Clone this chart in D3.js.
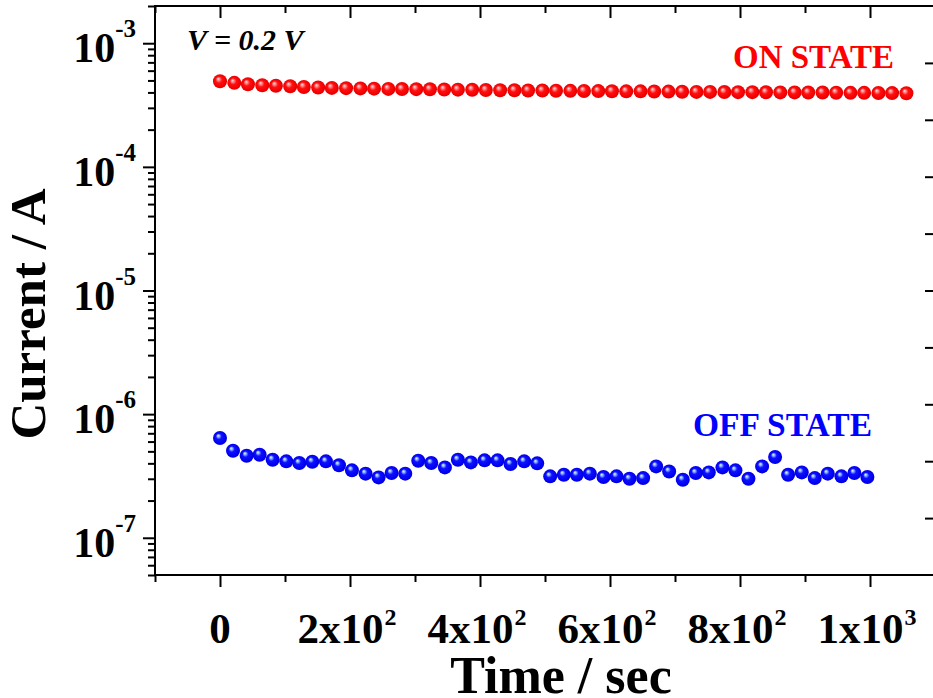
<!DOCTYPE html>
<html>
<head>
<meta charset="utf-8">
<script src="https://cdn.jsdelivr.net/npm/d3@7/dist/d3.min.js"></script>
<style>
  html, body { margin: 0; padding: 0; background: #fff; }
  svg { display: block; }
  text { font-family: "Liberation Serif", "Times New Roman", serif; font-weight: bold; }
</style>
</head>
<body>
<svg id="chart" width="933" height="698"></svg>
<script>
// Retention test at a read voltage of 0.2 V: ON and OFF state current vs time
const onTime = [0, 22, 43, 65, 86, 108, 129, 151, 172, 194, 216, 237, 259, 280, 302, 323, 345, 366, 388, 409,
  431, 453, 474, 496, 517, 539, 560, 582, 603, 625, 647, 668, 690, 711, 733, 754, 776, 797, 819, 840,
  862, 884, 905, 927, 948, 970, 991, 1013, 1034, 1056];
const onCurrent = [4.93e-4, 4.78e-4, 4.66e-4, 4.57e-4, 4.53e-4, 4.49e-4, 4.43e-4, 4.38e-4, 4.35e-4, 4.33e-4,
  4.31e-4, 4.29e-4, 4.27e-4, 4.26e-4, 4.25e-4, 4.24e-4, 4.22e-4, 4.21e-4, 4.20e-4, 4.18e-4,
  4.17e-4, 4.16e-4, 4.15e-4, 4.14e-4, 4.13e-4, 4.12e-4, 4.11e-4, 4.10e-4, 4.09e-4, 4.08e-4,
  4.08e-4, 4.07e-4, 4.06e-4, 4.05e-4, 4.04e-4, 4.04e-4, 4.03e-4, 4.02e-4, 4.02e-4, 4.01e-4,
  4.00e-4, 4.00e-4, 3.99e-4, 3.99e-4, 3.98e-4, 3.97e-4, 3.97e-4, 3.96e-4, 3.95e-4, 3.94e-4];

const offTime = [0, 20, 41, 61, 81, 102, 122, 142, 163, 183, 203, 224, 244, 264, 285, 305, 325, 346, 366, 386,
  407, 427, 447, 468, 488, 508, 529, 549, 569, 590, 610, 630, 651, 671, 691, 712, 732, 752, 773, 793,
  813, 834, 854, 874, 895, 915, 935, 956, 976, 996];
const offCurrent = [6.41e-7, 5.06e-7, 4.61e-7, 4.70e-7, 4.28e-7, 4.15e-7, 4.02e-7, 4.12e-7, 4.15e-7, 3.86e-7,
  3.51e-7, 3.30e-7, 3.08e-7, 3.34e-7, 3.30e-7, 4.20e-7, 4.02e-7, 3.71e-7, 4.28e-7, 4.07e-7,
  4.23e-7, 4.23e-7, 3.95e-7, 4.15e-7, 4.00e-7, 3.14e-7, 3.23e-7, 3.23e-7, 3.30e-7, 3.10e-7,
  3.14e-7, 3.00e-7, 3.04e-7, 3.78e-7, 3.44e-7, 2.95e-7, 3.34e-7, 3.38e-7, 3.71e-7, 3.51e-7,
  3.00e-7, 3.78e-7, 4.50e-7, 3.23e-7, 3.38e-7, 3.04e-7, 3.30e-7, 3.14e-7, 3.34e-7, 3.10e-7];

const xMajorTicks = [0, 200, 400, 600, 800, 1000];
const xTickMantissa = ["0", "2x10", "4x10", "6x10", "8x10", "1x10"];
const xTickExponent = ["", "2", "2", "2", "2", "3"];
const yMajorTicks = [1e-7, 1e-6, 1e-5, 1e-4, 1e-3];
const yTickExponent = ["-7", "-6", "-5", "-4", "-3"];

const xTitle = "Time / sec";
const yTitle = "Current / A";
const biasLabel = "V = 0.2 V";
const onLabel = "ON STATE";
const offLabel = "OFF STATE";

const svg = d3.select("#chart");
const plotLeft = 155, plotRight = 935, plotTop = 6, plotBottom = 575;

const x = d3.scaleLinear().domain([-100, 1100]).range([plotLeft, plotRight]);
const y = d3.scaleLog().domain([5e-8, 2e-3]).range([plotBottom, plotTop]);

// Shaded sphere markers
const defs = svg.append("defs");
function sphere(id, stops) {
  const g = defs.append("radialGradient").attr("id", id)
    .attr("cx", "50%").attr("cy", "50%").attr("r", "55%")
    .attr("fx", "36%").attr("fy", "32%");
  stops.forEach(s => g.append("stop").attr("offset", s[0]).attr("stop-color", s[1]));
}
sphere("ballRed", [[0, "#ffe0e0"], [0.18, "#ff8a8a"], [0.42, "#ff1010"], [0.8, "#f00000"], [1, "#d80000"]]);
sphere("ballBlue", [[0, "#e8f6ff"], [0.16, "#8ab4ff"], [0.38, "#1010ff"], [0.8, "#0000f0"], [1, "#0000c8"]]);

// Axes
const axisColor = "#000";
function styleAxis(g) {
  g.select(".domain").remove();
  g.selectAll("line").attr("stroke", axisColor).attr("stroke-width", 2);
}
const xMinor = d3.range(-100, 1101, 100).filter(v => !xMajorTicks.includes(v));

svg.append("g").attr("transform", `translate(0,${plotBottom})`)
  .call(d3.axisBottom(x).tickValues(xMajorTicks).tickSize(12).tickFormat(""))
  .call(styleAxis);
svg.append("g").attr("transform", `translate(0,${plotBottom})`)
  .call(d3.axisBottom(x).tickValues(xMinor).tickSize(7).tickFormat(""))
  .call(styleAxis);
svg.append("g").attr("transform", `translate(0,${plotTop})`)
  .call(d3.axisTop(x).tickValues(xMajorTicks).tickSize(-12).tickFormat(""))
  .call(styleAxis);
svg.append("g").attr("transform", `translate(0,${plotTop})`)
  .call(d3.axisTop(x).tickValues(xMinor).tickSize(-7).tickFormat(""))
  .call(styleAxis);

const yMinor = y.ticks().filter(v => !yMajorTicks.some(m => Math.abs(m - v) / m < 1e-6));
svg.append("g").attr("transform", `translate(${plotLeft},0)`)
  .call(d3.axisLeft(y).tickValues(yMajorTicks).tickSize(12).tickFormat(""))
  .call(styleAxis);
svg.append("g").attr("transform", `translate(${plotLeft},0)`)
  .call(d3.axisLeft(y).tickValues(yMinor).tickSize(7).tickFormat(""))
  .call(styleAxis);

// Right-hand axis with evenly spaced inward ticks
const yRight = d3.scaleLinear().domain([0, 10]).range([plotBottom, plotTop]);
svg.append("g").attr("transform", `translate(${plotRight},0)`)
  .call(d3.axisRight(yRight).tickValues(d3.range(1, 10)).tickSize(-10).tickFormat(""))
  .call(styleAxis);

// Frame
svg.append("rect").attr("x", plotLeft).attr("y", plotTop)
  .attr("width", plotRight - plotLeft).attr("height", plotBottom - plotTop)
  .attr("fill", "none").attr("stroke", axisColor).attr("stroke-width", 2);

// Tick labels
const xl = svg.append("g");
xMajorTicks.forEach((v, i) => {
  const t = xl.append("text").attr("x", x(v) - (xTickExponent[i] ? 3 : 0)).attr("y", 643)
    .attr("text-anchor", "middle").attr("font-size", 43);
  t.append("tspan").text(xTickMantissa[i]);
  if (xTickExponent[i]) {
    t.append("tspan").attr("font-size", 24).attr("dx", 1).attr("dy", -18).text(xTickExponent[i]);
  }
});

const yl = svg.append("g");
yMajorTicks.forEach((v, i) => {
  const t = yl.append("text").attr("x", 136).attr("y", y(v) + 19)
    .attr("text-anchor", "end").attr("font-size", 42);
  t.append("tspan").text("10");
  t.append("tspan").attr("font-size", 25).attr("dy", -25).text(yTickExponent[i]);
});

// Axis titles
svg.append("text").attr("x", 561).attr("y", 693)
  .attr("text-anchor", "middle").attr("font-size", 52).text(xTitle);
svg.append("text").attr("transform", `translate(45,314) rotate(-90)`)
  .attr("text-anchor", "middle").attr("font-size", 51).text(yTitle);

// Data
svg.append("g").selectAll("circle").data(onTime.map((t, i) => [t, onCurrent[i]]))
  .join("circle")
  .attr("cx", d => x(d[0])).attr("cy", d => y(d[1])).attr("r", 7)
  .attr("fill", "url(#ballRed)");
svg.append("g").selectAll("circle").data(offTime.map((t, i) => [t, offCurrent[i]]))
  .join("circle")
  .attr("cx", d => x(d[0])).attr("cy", d => y(d[1])).attr("r", 7)
  .attr("fill", "url(#ballBlue)");

// Annotations
svg.append("text").attr("x", 187).attr("y", 50).attr("font-size", 30)
  .attr("font-style", "italic").text(biasLabel);
svg.append("text").attr("x", 733).attr("y", 68).attr("font-size", 33)
  .attr("fill", "#ff0000").text(onLabel);
svg.append("text").attr("x", 693).attr("y", 436).attr("font-size", 33.5)
  .attr("fill", "#0000ff").text(offLabel);
</script>
</body>
</html>
